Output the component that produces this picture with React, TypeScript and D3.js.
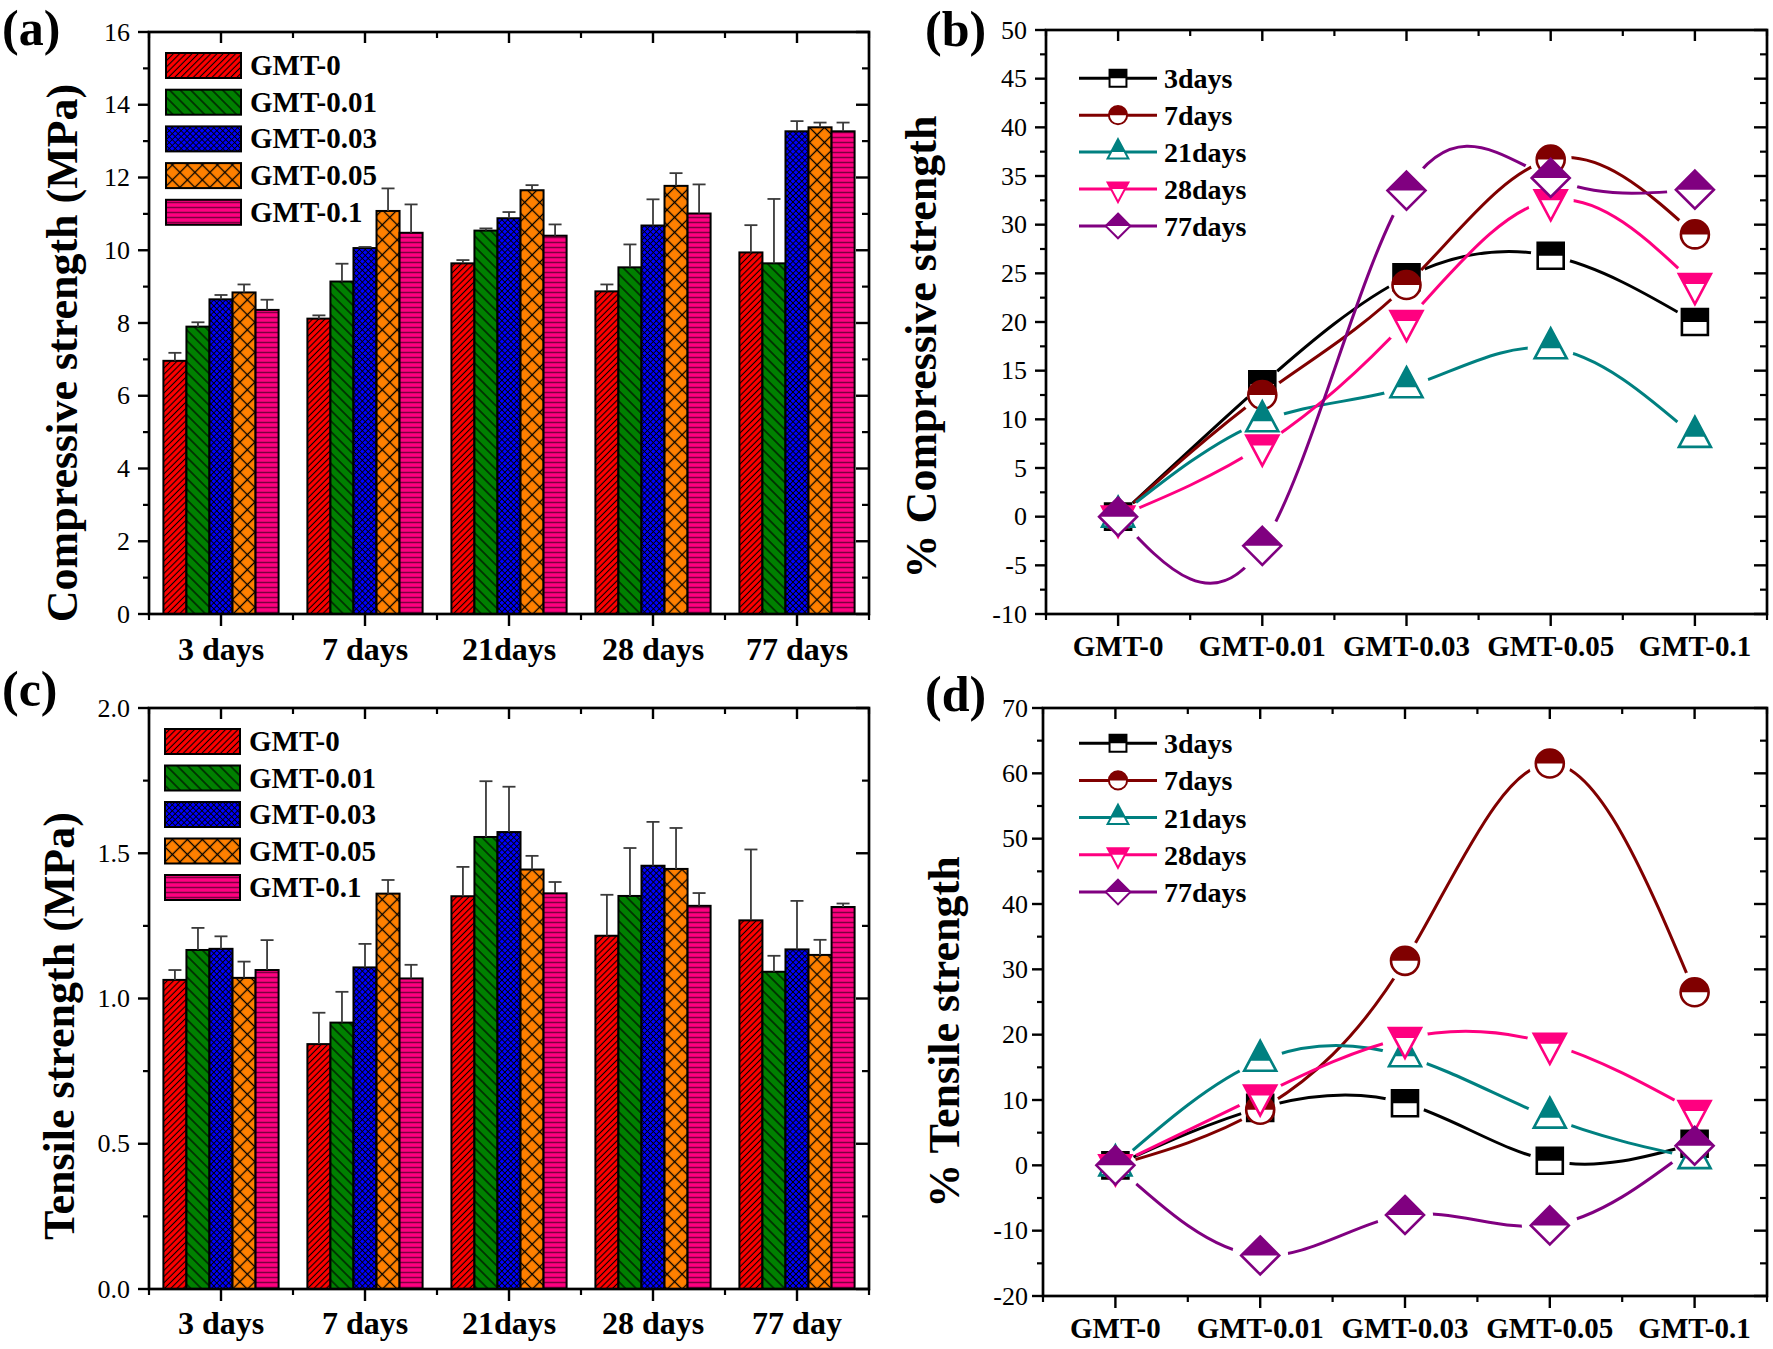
import React from "react";
import * as d3 from "d3";

const FONT = '"Liberation Serif", "Times New Roman", Times, serif';

// ---------- data ----------
const mixLabels = ["GMT-0", "GMT-0.01", "GMT-0.03", "GMT-0.05", "GMT-0.1"];
const ageLabelsComp = ["3 days", "7 days", "21days", "28 days", "77 days"];
const ageLabelsTens = ["3 days", "7 days", "21days", "28 days", "77 day"];
const curveLabels = ["3days", "7days", "21days", "28days", "77days"];

// compressive strength (MPa), one value per age
const compGMT0 = [6.96, 8.12, 9.64, 8.87, 9.94];
const compGMT001 = [7.9, 9.14, 10.54, 9.53, 9.64];
const compGMT003 = [8.65, 10.06, 10.88, 10.68, 13.27];
const compGMT005 = [8.84, 11.08, 11.65, 11.77, 13.38];
const compGMT01 = [8.36, 10.48, 10.4, 11.01, 13.27];
const compSdGMT0 = [0.22, 0.09, 0.09, 0.19, 0.75];
const compSdGMT001 = [0.12, 0.49, 0.06, 0.63, 1.77];
const compSdGMT003 = [0.12, 0.03, 0.17, 0.72, 0.28];
const compSdGMT005 = [0.22, 0.62, 0.14, 0.35, 0.13];
const compSdGMT01 = [0.28, 0.78, 0.31, 0.8, 0.24];

// tensile strength (MPa)
const tensGMT0 = [1.064, 0.843, 1.352, 1.216, 1.269];
const tensGMT001 = [1.167, 0.917, 1.556, 1.353, 1.092];
const tensGMT003 = [1.171, 1.107, 1.573, 1.457, 1.169];
const tensGMT005 = [1.071, 1.361, 1.444, 1.446, 1.15];
const tensGMT01 = [1.098, 1.069, 1.362, 1.319, 1.315];
const tensSdGMT0 = [0.034, 0.108, 0.101, 0.141, 0.244];
const tensSdGMT001 = [0.076, 0.106, 0.192, 0.165, 0.055];
const tensSdGMT003 = [0.043, 0.081, 0.156, 0.151, 0.167];
const tensSdGMT005 = [0.056, 0.047, 0.047, 0.141, 0.052];
const tensSdGMT01 = [0.103, 0.047, 0.039, 0.044, 0.012];

// % change vs GMT-0, one value per mix
const pctComp3 = [0, 13.6, 24.6, 26.8, 20.0];
const pctComp7 = [0, 12.5, 23.8, 36.7, 29.0];
const pctComp21 = [0, 9.8, 13.3, 17.3, 8.2];
const pctComp28 = [0, 7.3, 20.1, 32.5, 23.9];
const pctComp77 = [0, -3.0, 33.5, 34.8, 33.6];

const pctTens3 = [0, 8.8, 9.5, 0.7, 3.3];
const pctTens7 = [0, 8.5, 31.3, 61.5, 26.5];
const pctTens21 = [0, 16.0, 16.7, 7.3, 1.1];
const pctTens28 = [0, 10.7, 19.5, 18.6, 8.3];
const pctTens77 = [0, -13.8, -7.6, -9.2, 3.0];

// ---------- styles ----------
const barFills = ["url(#pRed)", "url(#pGreen)", "url(#pBlue)", "url(#pOrange)", "url(#pPink)"];
const lineColors = ["#000000", "#800000", "#008080", "#FF0080", "#800080"];
const shapes = ["square", "circle", "triUp", "triDown", "diamond"];
const gaps = [20, 21, 23, 23, 28];

function shapePath(shape, k) {
  if (shape === "square") {
    const h = 13 * k;
    return `M${-h},${-h}H${h}V${h}H${-h}Z`;
  }
  if (shape === "circle") {
    const r = 14 * k;
    return `M${-r},0A${r},${r} 0 1,0 ${r},0A${r},${r} 0 1,0 ${-r},0Z`;
  }
  if (shape === "triUp") return `M0,${-20 * k}L${16 * k},${10 * k}L${-16 * k},${10 * k}Z`;
  if (shape === "triDown") return `M0,${20 * k}L${16 * k},${-10 * k}L${-16 * k},${-10 * k}Z`;
  const r = 19 * k;
  return `M0,${-r}L${r},0L0,${r}L${-r},0Z`;
}

function Marker({ x, y, shape, color, k }) {
  const d = shapePath(shape, k);
  return (
    <g transform={`translate(${x},${y})`}>
      <path d={d} fill="#fff" />
      <path d={d} fill={color} clipPath="url(#topHalf)" />
      <path d={d} fill="none" stroke={color} strokeWidth={k < 1 ? 2 : 2.6} />
    </g>
  );
}

function Frame({ box, y, yMajor, yMinor, fmt, cats, catFont, catBaseline, labelGap }) {
  const x = d3.scaleLinear().domain([0.5, 5.5]).range([box.left, box.right]);
  const centers = d3.range(1, 6);
  const bounds = d3.range(0.5, 6, 1);
  return (
    <g>
      <rect x={box.left} y={box.top} width={box.right - box.left} height={box.bottom - box.top}
        fill="none" stroke="#000" strokeWidth={2.7} />
      {yMajor.map(v => (
        <g key={"M" + v}>
          <line x1={box.left - 11} x2={box.left} y1={y(v)} y2={y(v)} stroke="#000" strokeWidth={2.4} />
          <line x1={box.right - 13} x2={box.right} y1={y(v)} y2={y(v)} stroke="#000" strokeWidth={2.4} />
          <text x={box.left - labelGap} y={y(v)} textAnchor="end" dominantBaseline="central"
            fontSize={26} fontFamily={FONT}>{fmt(v)}</text>
        </g>
      ))}
      {yMinor.map(v => (
        <g key={"m" + v}>
          <line x1={box.left - 6} x2={box.left} y1={y(v)} y2={y(v)} stroke="#000" strokeWidth={2.2} />
          <line x1={box.right - 7} x2={box.right} y1={y(v)} y2={y(v)} stroke="#000" strokeWidth={2.2} />
        </g>
      ))}
      {centers.map((c, i) => (
        <g key={"c" + c}>
          <line x1={x(c)} x2={x(c)} y1={box.bottom} y2={box.bottom + 12} stroke="#000" strokeWidth={2.4} />
          <line x1={x(c)} x2={x(c)} y1={box.top} y2={box.top + 11} stroke="#000" strokeWidth={2.4} />
          <text x={x(c)} y={catBaseline} textAnchor="middle" fontSize={catFont} fontWeight="bold"
            fontFamily={FONT}>{cats[i]}</text>
        </g>
      ))}
      {bounds.map(b => (
        <g key={"b" + b}>
          <line x1={x(b)} x2={x(b)} y1={box.bottom} y2={box.bottom + 6} stroke="#000" strokeWidth={2.2} />
          <line x1={x(b)} x2={x(b)} y1={box.top} y2={box.top + 6} stroke="#000" strokeWidth={2.2} />
        </g>
      ))}
    </g>
  );
}

function Title({ cx, cy, text }) {
  return (
    <text transform={`translate(${cx},${cy}) rotate(-90)`} textAnchor="middle" dominantBaseline="central"
      fontSize={44} fontWeight="bold" fontFamily={FONT}>{text}</text>
  );
}

function PanelTag({ x, y, text }) {
  return <text x={x} y={y} fontSize={50} fontWeight="bold" fontFamily={FONT}>{text}</text>;
}

function BarPanel({ box, yMax, major, minor, fmt, means, sds, cats, catBaseline, legend }) {
  const x = d3.scaleLinear().domain([0.5, 5.5]).range([box.left, box.right]);
  const y = d3.scaleLinear().domain([0, yMax]).range([box.bottom, box.top]);
  const step = x(2) - x(1);
  const barW = (step * 0.8) / 5;
  const yMajor = d3.range(0, yMax + major / 2, major);
  const yMinor = d3.range(minor, yMax, major);
  return (
    <g>
      {means.map((series, j) =>
        series.map((v, i) => {
          const x0 = x(i + 1) - 2.5 * barW + j * barW;
          return (
            <rect key={j + "-" + i} x={x0} y={y(v)} width={barW} height={y(0) - y(v)}
              fill={barFills[j]} stroke="#000" strokeWidth={2} />
          );
        })
      )}
      {means.map((series, j) =>
        series.map((v, i) => {
          const xc = x(i + 1) - 2 * barW + j * barW;
          const yt = y(v + sds[j][i]);
          return (
            <g key={"e" + j + "-" + i} stroke="#3a3a3a" strokeWidth={1.8}>
              <line x1={xc} x2={xc} y1={y(v)} y2={yt} />
              <line x1={xc - 6.5} x2={xc + 6.5} y1={yt} y2={yt} />
            </g>
          );
        })
      )}
      <Frame box={box} y={y} yMajor={yMajor} yMinor={yMinor} fmt={fmt} cats={cats} catFont={32}
        catBaseline={catBaseline} labelGap={19} />
      {mixLabels.map((m, j) => (
        <g key={"lg" + m}>
          <rect x={legend.x} y={legend.y + j * legend.step} width={75} height={25} fill={barFills[j]}
            stroke="#000" strokeWidth={2} />
          <text x={legend.x + 84} y={legend.y + j * legend.step + 22} fontSize={29} fontWeight="bold"
            fontFamily={FONT}>{m}</text>
        </g>
      ))}
    </g>
  );
}

function LinePanel({ id, box, yDomain, major, minor, series, legend, catBaseline, labelGap }) {
  const x = d3.scaleLinear().domain([0.5, 5.5]).range([box.left, box.right]);
  const y = d3.scaleLinear().domain(yDomain).range([box.bottom, box.top]);
  const yMajor = d3.range(yDomain[0], yDomain[1] + major / 2, major);
  const yMinor = d3.range(yDomain[0] + minor, yDomain[1], major);
  const line = d3.line<number>().x((d, i) => x(i + 1)).y(d => y(d)).curve(d3.curveNatural);
  return (
    <g>
      <defs>
        {series.map((s, k) => (
          <mask key={k} id={`${id}-m${k}`} maskUnits="userSpaceOnUse" x={0} y={0} width={1773} height={1349}>
            <rect x={0} y={0} width={1773} height={1349} fill="#fff" />
            {s.map((v, i) => <circle key={i} cx={x(i + 1)} cy={y(v)} r={gaps[k]} fill="#000" />)}
          </mask>
        ))}
      </defs>
      {series.map((s, k) => (
        <path key={"l" + k} d={line(s) || ""} fill="none" stroke={lineColors[k]} strokeWidth={3}
          mask={`url(#${id}-m${k})`} />
      ))}
      {series.map((s, k) =>
        s.map((v, i) => (
          <Marker key={k + "-" + i} x={x(i + 1)} y={y(v)} shape={shapes[k]} color={lineColors[k]} k={1} />
        ))
      )}
      <Frame box={box} y={y} yMajor={yMajor} yMinor={yMinor} fmt={v => String(v)} cats={mixLabels}
        catFont={29} catBaseline={catBaseline} labelGap={labelGap} />
      {curveLabels.map((c, k) => {
        const ly = legend.y + k * legend.step;
        return (
          <g key={"lg" + c}>
            <line x1={legend.x} x2={legend.x + 78} y1={ly} y2={ly} stroke={lineColors[k]} strokeWidth={3} />
            <Marker x={legend.x + 39} y={ly} shape={shapes[k]} color={lineColors[k]} k={0.65} />
            <text x={legend.x + 85} y={ly + 10} fontSize={28} fontWeight="bold" fontFamily={FONT}>{c}</text>
          </g>
        );
      })}
    </g>
  );
}

export default function App() {
  const compMeans = [compGMT0, compGMT001, compGMT003, compGMT005, compGMT01];
  const compSds = [compSdGMT0, compSdGMT001, compSdGMT003, compSdGMT005, compSdGMT01];
  const tensMeans = [tensGMT0, tensGMT001, tensGMT003, tensGMT005, tensGMT01];
  const tensSds = [tensSdGMT0, tensSdGMT001, tensSdGMT003, tensSdGMT005, tensSdGMT01];
  const pctComp = [pctComp3, pctComp7, pctComp21, pctComp28, pctComp77];
  const pctTens = [pctTens3, pctTens7, pctTens21, pctTens28, pctTens77];

  return (
    <svg width={1773} height={1349} style={{ position: "absolute", left: 0, top: 0, background: "#fff" }}>
      <defs>
        <clipPath id="topHalf">
          <rect x={-40} y={-40} width={80} height={40} />
        </clipPath>
        <pattern id="pRed" patternUnits="userSpaceOnUse" width={4.4} height={20} patternTransform="rotate(45)">
          <rect width={4.4} height={20} fill="#FF0000" />
          <line x1={2.2} x2={2.2} y1={0} y2={20} stroke="#000" strokeWidth={1.1} />
        </pattern>
        <pattern id="pGreen" patternUnits="userSpaceOnUse" width={7.5} height={20} patternTransform="rotate(-45)">
          <rect width={7.5} height={20} fill="#008000" />
          <line x1={3.75} x2={3.75} y1={0} y2={20} stroke="#000" strokeWidth={1.1} />
        </pattern>
        <pattern id="pBlue" patternUnits="userSpaceOnUse" width={4.2} height={4.2} patternTransform="rotate(45)">
          <rect width={4.2} height={4.2} fill="#0000FF" />
          <line x1={2.1} x2={2.1} y1={0} y2={4.2} stroke="#000" strokeWidth={0.9} />
          <line x1={0} x2={4.2} y1={2.1} y2={2.1} stroke="#000" strokeWidth={0.9} />
        </pattern>
        <pattern id="pOrange" patternUnits="userSpaceOnUse" width={10.6} height={10.6} patternTransform="rotate(45)">
          <rect width={10.6} height={10.6} fill="#FF8000" />
          <line x1={5.3} x2={5.3} y1={0} y2={10.6} stroke="#000" strokeWidth={1.3} />
          <line x1={0} x2={10.6} y1={5.3} y2={5.3} stroke="#000" strokeWidth={1.3} />
        </pattern>
        <pattern id="pPink" patternUnits="userSpaceOnUse" width={10} height={5}>
          <rect width={10} height={5} fill="#FF0080" />
          <line x1={0} x2={10} y1={2.5} y2={2.5} stroke="#7d0040" strokeWidth={1.5} />
        </pattern>
      </defs>

      {/* (a) compressive strength bars */}
      <BarPanel box={{ left: 149, right: 869, top: 32, bottom: 614 }} yMax={16} major={2} minor={1}
        fmt={v => String(v)} means={compMeans} sds={compSds} cats={ageLabelsComp} catBaseline={660}
        legend={{ x: 166, y: 53, step: 36.7 }} />
      <Title cx={62} cy={353} text="Compressive strength (MPa)" />
      <PanelTag x={2} y={45} text="(a)" />

      {/* (c) tensile strength bars */}
      <BarPanel box={{ left: 149, right: 869, top: 708, bottom: 1289 }} yMax={2} major={0.5} minor={0.25}
        fmt={v => v.toFixed(1)} means={tensMeans} sds={tensSds} cats={ageLabelsTens} catBaseline={1334}
        legend={{ x: 165, y: 729, step: 36.5 }} />
      <Title cx={59} cy={1026} text="Tensile strength (MPa)" />
      <PanelTag x={2} y={706} text="(c)" />

      {/* (b) % compressive strength */}
      <LinePanel id="pb" box={{ left: 1046, right: 1767, top: 30, bottom: 614 }} yDomain={[-10, 50]}
        major={5} minor={2.5} series={pctComp} legend={{ x: 1079, y: 78.3, step: 36.9 }}
        catBaseline={656} labelGap={19} />
      <Title cx={921} cy={347} text="% Compressive strength" />
      <PanelTag x={925} y={46} text="(b)" />

      {/* (d) % tensile strength */}
      <LinePanel id="pd" box={{ left: 1043, right: 1767, top: 708, bottom: 1296 }} yDomain={[-20, 70]}
        major={10} minor={5} series={pctTens} legend={{ x: 1079, y: 743.2, step: 37.2 }}
        catBaseline={1338} labelGap={15} />
      <Title cx={944} cy={1032} text="% Tensile strength" />
      <PanelTag x={925} y={711} text="(d)" />
    </svg>
  );
}
